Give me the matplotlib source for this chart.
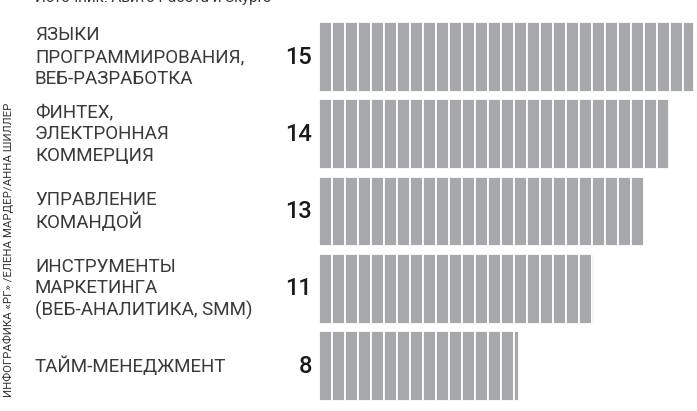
import matplotlib.pyplot as plt
import numpy as np

# данные
категории = [
    "ЯЗЫКИ\nПРОГРАММИРОВАНИЯ,\nВЕБ-РАЗРАБОТКА",
    "ФИНТЕХ,\nЭЛЕКТРОННАЯ\nКОММЕРЦИЯ",
    "УПРАВЛЕНИЕ\nКОМАНДОЙ",
    "ИНСТРУМЕНТЫ\nМАРКЕТИНГА\n(ВЕБ-АНАЛИТИКА, SMM)",
    "ТАЙМ-МЕНЕДЖМЕНТ",
]
значения = [15, 14, 13, 11, 8]
источник = "Источник: Авито Работа и Skypro"
подпись = "ИНФОГРАФИКА «РГ» /ЕЛЕНА МАРДЕР/АННА ШИЛЛЕР"

plt.rcParams['font.family'] = ['Roboto', 'DejaVu Sans']

W, H = 697, 411
fig = plt.figure(figsize=(W / 100, H / 100), dpi=100)
fig.patch.set_facecolor('white')

# оси: начало столбцов на 319 px, 25 px на единицу
x0 = 319
ax = fig.add_axes([x0 / W, 0, 1 - x0 / W, 1])
ax.set_xlim(0, (W - x0) / 25)
шаг_строки = 77.25
центр0 = 57
ax.set_ylim((H - центр0) / шаг_строки, -центр0 / шаг_строки)
ax.axis('off')

сегмент = 13 / 25  # ширина одной полоски
for i, v in enumerate(значения):
    левые = np.arange(0, v, сегмент)
    ширины = np.minimum(сегмент, v - левые)
    ax.barh(i, ширины, left=левые, height=0.906, color='#a7a8ab',
            edgecolor='white', linewidth=1.3)

# подписи категорий и числа
for i, (кат, v) in enumerate(zip(категории, значения)):
    y_fig = 1 - (центр0 + i * шаг_строки) / H
    fig.text(35 / W, y_fig, кат, ha='left', va='center', fontsize=13.5,
             color='#3a3a3a', linespacing=1.25)
    fig.text(312 / W, y_fig, str(v), ha='right', va='center', fontsize=17,
             color='#1a1a1a', fontweight='medium')

# источник (обрезан сверху)
fig.text(35 / W, 1 + 2 / H, источник, ha='left', va='center', fontsize=11,
         color='#333333')

# вертикальная подпись
fig.text(8 / W, 1 - 250 / H, подпись, rotation=90, ha='center', va='center',
         fontsize=8.2, color='#333333')

plt.savefig('out.png', dpi=100)
